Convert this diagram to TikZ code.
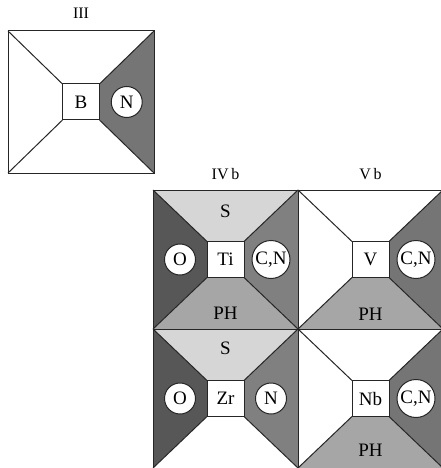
\documentclass[tikz,border=0pt]{standalone}
\usepackage{fontspec}
\setmainfont{Liberation Serif}
\usetikzlibrary{positioning,calc}
\definecolor{gS}{gray}{0.84}
\definecolor{gPH}{gray}{0.65}
\definecolor{gO}{gray}{0.34}
\definecolor{gN}{gray}{0.46}
\definecolor{gCN}{gray}{0.5}
% four trapezoids round a core box: cell, core, top, left, right, bottom
\newcommand{\pyramid}[6]{%
  \fill[#3] (#1.north west) -- (#1.north east) -- (#2.north east) -- (#2.north west) -- cycle;
  \fill[#4] (#1.north west) -- (#2.north west) -- (#2.south west) -- (#1.south west) -- cycle;
  \fill[#5] (#1.north east) -- (#2.north east) -- (#2.south east) -- (#1.south east) -- cycle;
  \fill[#6] (#1.south west) -- (#2.south west) -- (#2.south east) -- (#1.south east) -- cycle;
  \draw[edge] (#1.north west) -- (#2.north west) (#1.north east) -- (#2.north east)
    (#1.south west) -- (#2.south west) (#1.south east) -- (#2.south east);
  \draw[edge] (#1.north west) rectangle (#1.south east);
  \draw[edge] (#2.north west) rectangle (#2.south east);
}

\begin{document}
\begin{tikzpicture}[x=1pt,y=-1pt]
\tikzset{edge/.style={draw=black!85, line width=1pt},
  cell/.style={minimum width=145pt, minimum height=139pt, inner sep=0pt, outer sep=0pt},
  core/.style={minimum width=37pt, minimum height=36pt, inner sep=0pt, outer sep=0pt, font=\fontsize{19}{19}\selectfont},
  atom/.style={edge, circle, fill=white, inner sep=0pt, minimum size=31pt, font=\fontsize{19}{19}\selectfont},
  bigatom/.style={atom, minimum size=38pt},
  zone/.style={font=\fontsize{19}{19}\selectfont},
  group/.style={inner sep=0pt, font=\fontsize{16}{16}\selectfont}}
\useasboundingbox (0,0) rectangle (440,468);

% group III
\node[cell, minimum width=146pt, minimum height=142pt] (cellB) at (81,102) {};
\node[core] (B) at (cellB) {B};
\pyramid{cellB}{B}{white}{white}{gN}{white}
\node[atom] (nB) at ($(B.east)!0.5!(cellB.east)$) {N};
\node[group, above=12pt of cellB.north] (gIII) {III};

% groups IVb and Vb
\node[cell] (cellTi) at (225.5,259.5) {};
\node[cell, right=0pt of cellTi] (cellV) {};
\node[cell, below=0pt of cellTi] (cellZr) {};
\node[cell, below=0pt of cellV] (cellNb) {};
\node[core] (Ti) at (cellTi) {Ti};
\node[core] (V) at (cellV) {V};
\node[core] (Zr) at (cellZr) {Zr};
\node[core] (Nb) at (cellNb) {Nb};

\pyramid{cellTi}{Ti}{gS}{gO}{gCN}{gPH}
\pyramid{cellV}{V}{white}{white}{gN}{gPH}
\pyramid{cellZr}{Zr}{gS}{gO}{gCN}{white}
\pyramid{cellNb}{Nb}{white}{white}{gN}{gPH}

\node[atom] (oTi) at ($(Ti.west)!0.5!(cellTi.west)$) {O};
\node[bigatom] (cnTi) at ($(Ti.east)!0.5!(cellTi.east)$) {C,N};
\node[bigatom] (cnV) at ($(V.east)!0.5!(cellV.east)$) {C,N};
\node[atom] (oZr) at ($(Zr.west)!0.5!(cellZr.west)$) {O};
\node[atom] (nZr) at ($(Zr.east)!0.5!(cellZr.east)$) {N};
\node[bigatom] (cnNb) at ($(Nb.east)!0.5!(cellNb.east)$) {C,N};

\node[zone] (sTi) at ($(cellTi.north)!0.42!(Ti.north)$) {S};
\node[zone] (phTi) at ($(cellTi.south)!0.31!(Ti.south)$) {PH};
\node[zone] (phV) at ($(cellV.south)!0.28!(V.south)$) {PH};
\node[zone] (sZr) at ($(cellZr.north)!0.38!(Zr.north)$) {S};
\node[zone] (phNb) at ($(cellNb.south)!0.35!(Nb.south)$) {PH};

\node[group, above=10pt of cellTi.north] (gIV) {IV\,b};
\node[group, above=10pt of cellV.north] (gV) {V\,b};
\end{tikzpicture}
\end{document}
